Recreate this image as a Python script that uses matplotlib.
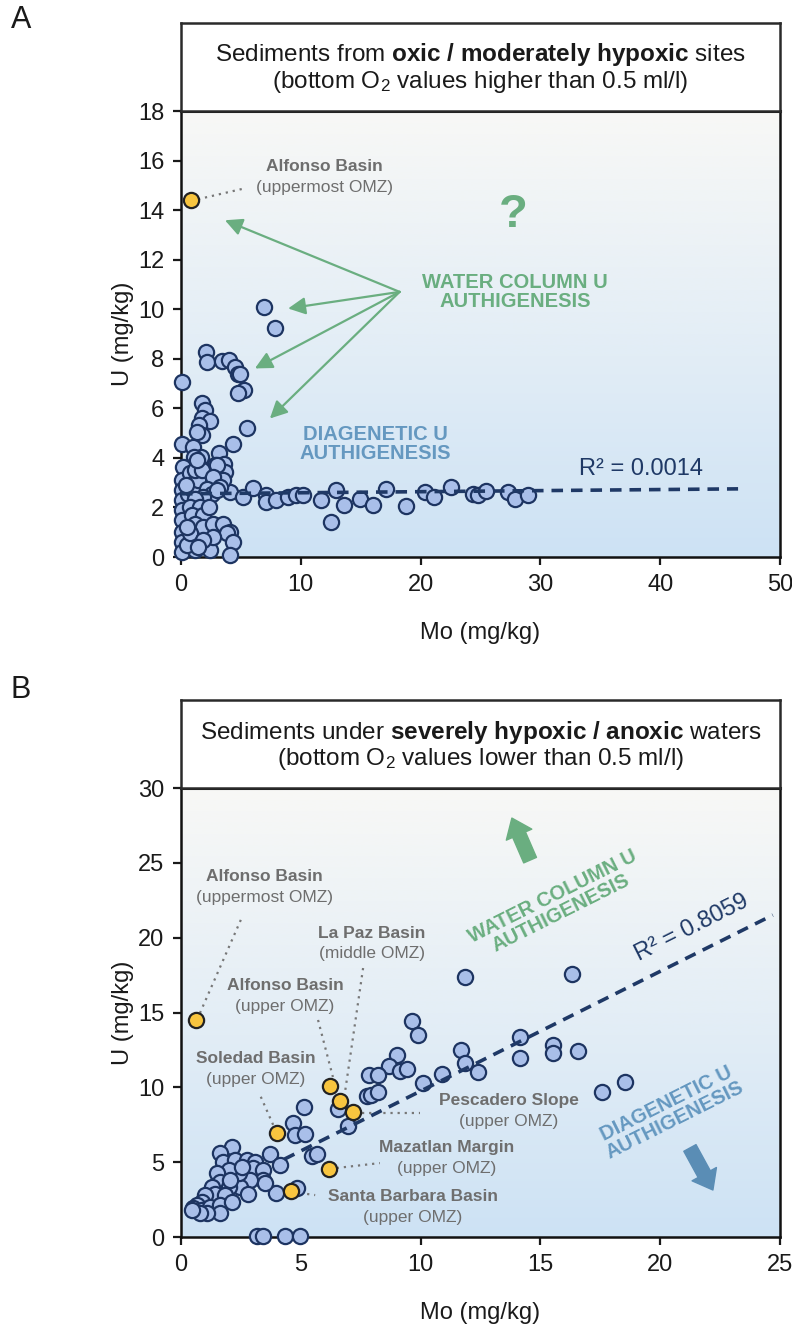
import numpy as np
import matplotlib
matplotlib.use('Agg')
import matplotlib.pyplot as plt
from matplotlib.colors import LinearSegmentedColormap

plt.rcParams['font.family'] = ['Liberation Sans', 'DejaVu Sans']
plt.rcParams['mathtext.fontset'] = 'custom'
plt.rcParams['mathtext.rm'] = 'Liberation Sans'
plt.rcParams['mathtext.bf'] = 'Liberation Sans:bold'
plt.rcParams['mathtext.it'] = 'Liberation Sans:italic'

# ---------------- data: panel A (oxic / moderately hypoxic) ----------------
mo_a = [6.94, 7.86, 2.06, 2.2, 3.44, 4.03, 4.5, 4.78, 4.95, 5.25, 4.72, 0.05, 1.78, 2.0,
        1.78, 2.42, 1.53, 5.47, 1.78, 1.3, 4.3, 0.05, 1.0, 3.17, 1.67, 1.11, 0.83, 2.83,
        3.61, 3.67, 1.67, 0.2, 2.69, 1.83,
        4.08, 5.14, 6.03, 7.08, 7.1, 7.92, 8.94, 9.64, 10.2, 11.72, 12.97, 13.58, 12.5,
        14.97, 16.0, 17.1, 18.8, 20.4, 21.1, 22.5, 24.4, 24.8, 25.5, 27.3, 27.9, 29.0,
        0.05, 0.05, 0.05, 0.1, 0.05, 0.1, 0.1, 0.1, 0.75, 0.9, 0.6, 1.0, 1.4, 1.2, 1.75,
        1.3, 2.97, 3.53, 2.7, 2.14, 2.55, 3.25, 1.86, 1.17, 0.75, 1.58, 0.9, 1.86, 1.17,
        1.86, 2.7, 3.53, 4.08, 3.8, 4.36, 4.08, 2.42, 1.17, 0.47, 0.75, 2.7, 1.86, 1.42,
        2.97, 0.5, 0.4, 2.3]
u_a = [10.09, 9.26, 8.28, 7.85, 7.9, 7.97, 7.67, 7.38, 7.4, 6.76, 6.6, 7.07, 6.2, 5.93,
       5.59, 5.5, 5.32, 5.19, 4.92, 5.05, 4.56, 4.56, 4.45, 4.18, 4.05, 4.05, 3.64, 3.7,
       3.76, 3.44, 3.57, 3.64, 2.97, 3.0,
       2.63, 2.43, 2.77, 2.5, 2.23, 2.3, 2.43, 2.5, 2.5, 2.32, 2.7, 2.1, 1.42,
       2.35, 2.1, 2.75, 2.05, 2.63, 2.42, 2.84, 2.56, 2.52, 2.66, 2.63, 2.36, 2.49,
       3.1, 2.7, 2.3, 1.9, 1.5, 1.02, 0.62, 0.22, 3.37, 2.96, 2.55, 2.7, 3.1, 3.5, 3.5,
       3.9, 3.71, 3.1, 3.23, 2.76, 2.55, 2.82, 2.42, 2.36, 2.02, 2.02, 1.68, 1.68, 1.35,
       1.21, 1.35, 1.35, 1.02, 0.95, 0.62, 0.08, 0.28, 0.28, 0.48, 0.95, 0.82, 0.68, 0.42,
       2.7, 1.2, 2.9, 2.0]
mo_a_hl = [0.8]      # Alfonso Basin (uppermost OMZ)
u_a_hl = [14.4]
trend_a_x = [0.0, 46.5]
trend_a_y = [2.55, 2.75]

# ---------------- data: panel B (severely hypoxic / anoxic) ----------------
mo_b = [11.84, 16.3, 9.64, 9.89, 11.7, 11.84, 12.4, 9.0, 8.67, 9.15, 9.43, 7.86, 8.23,
        10.11, 10.9, 7.75, 7.93, 8.23, 6.57, 6.96, 5.13, 4.69, 4.76, 5.17, 3.71, 4.13,
        5.45, 5.66, 3.96, 4.83, 3.16, 3.44, 4.35, 4.95,
        14.15, 14.15, 15.54, 15.54, 16.58, 17.56, 18.53,
        2.11, 1.63, 1.77, 2.25, 2.74, 3.09, 3.02, 3.43, 3.43, 3.5, 2.88, 2.46, 2.81, 2.42,
        2.0, 1.49, 1.63, 1.28, 2.0, 1.42, 1.84, 1.0, 0.86, 0.65, 0.51, 0.86, 1.21, 1.63,
        1.63, 1.07, 0.79, 0.44, 2.11, 2.04, 2.53]
u_b = [17.4, 17.6, 14.4, 13.5, 12.5, 11.65, 11.0, 12.16, 11.4, 11.1, 11.2, 10.82, 10.82,
       10.27, 10.92, 9.42, 9.47, 9.7, 8.55, 7.42, 8.66, 7.64, 6.81, 6.86, 5.54, 4.81,
       5.43, 5.54, 2.92, 3.25, 0.1, 0.1, 0.1, 0.1,
       13.38, 11.93, 12.83, 12.28, 12.4, 9.71, 10.37,
       6.03, 5.59, 5.03, 5.14, 5.14, 5.03, 4.59, 4.48, 3.8, 3.6, 3.8, 3.36, 2.9, 4.25,
       4.48, 4.25, 3.7, 3.36, 3.36, 2.9, 2.81, 2.81, 2.36, 2.14, 1.92, 1.8, 2.03, 2.14,
       1.58, 1.58, 1.58, 1.8, 2.36, 3.8, 4.7]
mo_b_hl = [0.63, 6.23, 6.64, 7.18, 4.02, 6.16, 4.58]
u_b_hl = [14.5, 10.08, 9.08, 8.33, 6.93, 4.54, 3.1]
trend_b_x = [4.3, 24.7]
trend_b_y = [5.19, 21.51]

# ---------------- style ----------------
FACE = '#a9bfe9'
EDGE = '#1d3461'
YEL = '#f8c53f'
NAVY = '#1f3966'
GREEN = '#6aae80'
BLUE_T = '#6598c0'
GRAY = '#6e6e6e'

bg_cmap = LinearSegmentedColormap.from_list(
    'bg', [(0.0, '#cde2f4'), (0.45, '#e2edf6'), (1.0, '#f8f8f6')])

fig = plt.figure(figsize=(7.92, 13.32), dpi=100)
fig.patch.set_facecolor('white')

L, W = 181 / 792, 599 / 792


def style_axes(ax, xlim, ylim, xticks, yticks):
    grad = np.linspace(0, 1, 256)[:, None]
    ax.imshow(grad, extent=[0, 1, 0, 1], transform=ax.transAxes, origin='lower',
              cmap=bg_cmap, aspect='auto', zorder=0, interpolation='bicubic')
    ax.set_xlim(xlim)
    ax.set_ylim(ylim)
    ax.set_xticks(xticks)
    ax.set_yticks(yticks)
    for s in ax.spines.values():
        s.set_linewidth(1.8)
        s.set_color('#111111')
    ax.spines['top'].set_linewidth(2.2)
    ax.tick_params(direction='out', length=6, width=1.6, labelsize=17, pad=6,
                   colors='#1a1a1a')
    ax.set_xlabel('Mo (mg/kg)', fontsize=17, color='#1a1a1a')
    ax.set_ylabel('U (mg/kg)', fontsize=17, color='#1a1a1a')
    ax.xaxis.set_label_coords(0.5, -0.145)
    ax.yaxis.set_label_coords(-0.078, 0.5)


def title_box(rect, line1, line2):
    tb = fig.add_axes(rect)
    tb.set_xticks([])
    tb.set_yticks([])
    tb.set_facecolor('white')
    for s in tb.spines.values():
        s.set_linewidth(1.8)
        s.set_color('#2a2a2a')
    tb.text(0.5, 0.635, line1, ha='center', va='center', fontsize=17.5, color='#1a1a1a')
    tb.text(0.5, 0.33, line2, ha='center', va='center', fontsize=17.5, color='#1a1a1a')


def label(ax, x, y, name, sub):
    # name line centred 7.5 pt above (x, y), parenthetical 7.5 pt below
    ax.annotate(name, xy=(x, y), xytext=(0, 7.5), textcoords='offset points',
                ha='center', va='center', fontsize=12.5, fontweight='bold',
                color=GRAY, zorder=6)
    ax.annotate(sub, xy=(x, y), xytext=(0, -7.5), textcoords='offset points',
                ha='center', va='center', fontsize=12.5, color=GRAY, zorder=6)


def leader(ax, p0, p1):
    ax.plot([p0[0], p1[0]], [p0[1], p1[1]], color='#777777', lw=1.6,
            dashes=(1.0, 2.2), zorder=2.8)


# ======================= Panel A =======================
axA = fig.add_axes([L, 1 - 557 / 1332, W, 446 / 1332])
style_axes(axA, (0, 50), (0, 18), range(0, 51, 10), range(0, 19, 2))
title_box([L, 1 - 111 / 1332, W, 88.3 / 1332],
          r'Sediments from $\mathbf{oxic\ /\ moderately\ hypoxic}$ sites',
          r'(bottom O$_2$ values higher than 0.5 ml/l)')

axA.scatter(mo_a, u_a, s=120, facecolor=FACE, edgecolor=EDGE, linewidth=1.6,
            zorder=3, clip_on=False)
axA.plot(trend_a_x, trend_a_y, color=NAVY, lw=2.6, dashes=(3.2, 2.2), zorder=4)
axA.scatter(mo_a_hl, u_a_hl, s=120, facecolor=YEL, edgecolor='#222222', linewidth=1.6,
            zorder=5, clip_on=False)

axA.text(33.2, 3.55, 'R² = 0.0014', ha='left', va='center', fontsize=17, color=NAVY,
         zorder=6)
label(axA, 12.0, 15.33, 'Alfonso Basin', '(uppermost OMZ)')
leader(axA, (1.42, 14.44), (5.33, 14.88))
axA.text(27.7, 13.8, '?', ha='center', va='center', fontsize=34, fontweight='bold',
         color=GREEN, zorder=6)
axA.text(27.9, 10.7, 'WATER COLUMN U\nAUTHIGENESIS', ha='center', va='center',
         fontsize=14.5, fontweight='bold', color=GREEN, linespacing=1.0, zorder=6)
axA.text(16.25, 4.58, 'DIAGENETIC U\nAUTHIGENESIS', ha='center', va='center',
         fontsize=14.5, fontweight='bold', color=BLUE_T, linespacing=1.0, zorder=6)
for tip in [(3.67, 13.59), (8.94, 10.03), (6.17, 7.61), (7.42, 5.59)]:
    axA.annotate('', xy=tip, xytext=(18.25, 10.7),
                 arrowprops=dict(arrowstyle='-|>', color=GREEN, lw=1.6,
                                 mutation_scale=26, shrinkA=0, shrinkB=0),
                 zorder=6)

fig.text(21 / 792, 1 - 20 / 1332, 'A', ha='center', va='center', fontsize=22,
         color='#1a1a1a')

# ======================= Panel B =======================
axB = fig.add_axes([L, 1 - 1237 / 1332, W, 449 / 1332])
style_axes(axB, (0, 25), (0, 30), range(0, 26, 5), range(0, 31, 5))
title_box([L, 1 - 788 / 1332, W, 88 / 1332],
          r'Sediments under $\mathbf{severely\ hypoxic\ /\ anoxic}$ waters',
          r'(bottom O$_2$ values lower than 0.5 ml/l)')

axB.scatter(mo_b, u_b, s=120, facecolor=FACE, edgecolor=EDGE, linewidth=1.6,
            zorder=3, clip_on=False)
axB.plot(trend_b_x, trend_b_y, color=NAVY, lw=2.6, dashes=(3.2, 2.2), zorder=4)
axB.scatter(mo_b_hl, u_b_hl, s=120, facecolor=YEL, edgecolor='#222222', linewidth=1.6,
            zorder=5, clip_on=False)

axB.text(19.2, 18.17, 'R² = 0.8059', ha='left', va='bottom', fontsize=17, color=NAVY,
         rotation=26.6, rotation_mode='anchor', zorder=6)
axB.text(15.69, 22.18, 'WATER COLUMN U\nAUTHIGENESIS', ha='center', va='center',
         fontsize=14.5, fontweight='bold', color=GREEN, linespacing=1.0,
         rotation=26.6, rotation_mode='anchor', zorder=6)
axB.text(20.45, 8.35, 'DIAGENETIC U\nAUTHIGENESIS', ha='center', va='center',
         fontsize=14.5, fontweight='bold', color=BLUE_T, linespacing=1.0,
         rotation=26.6, rotation_mode='anchor', zorder=6)
axB.annotate('', xy=(13.81, 27.99), xytext=(14.57, 25.18),
             arrowprops=dict(arrowstyle='simple,head_width=2.0,head_length=1.3,tail_width=1.0',
                             color=GREEN, mutation_scale=10, shrinkA=0, shrinkB=0), zorder=6)
axB.annotate('', xy=(22.2, 3.14), xytext=(21.24, 5.95),
             arrowprops=dict(arrowstyle='simple,head_width=2.0,head_length=1.3,tail_width=1.0',
                             color='#5a8db5', mutation_scale=10, shrinkA=0, shrinkB=0), zorder=6)

label(axB, 3.5, 23.41, 'Alfonso Basin', '(uppermost OMZ)')
leader(axB, (0.79, 14.96), (2.5, 21.2))
label(axB, 7.96, 19.61, 'La Paz Basin', '(middle OMZ)')
leader(axB, (7.6, 17.97), (6.84, 9.62))
label(axB, 4.34, 16.08, 'Alfonso Basin', '(upper OMZ)')
leader(axB, (5.72, 14.5), (6.34, 10.69))
label(axB, 3.13, 11.22, 'Soledad Basin', '(upper OMZ)')
leader(axB, (3.33, 9.37), (3.88, 7.37))
label(axB, 13.69, 8.43, 'Pescadero Slope', '(upper OMZ)')
leader(axB, (7.54, 8.28), (9.97, 8.28))
label(axB, 11.1, 5.26, 'Mazatlan Margin', '(upper OMZ)')
leader(axB, (6.5, 4.61), (8.3, 4.94))
label(axB, 9.68, 2.02, 'Santa Barbara Basin', '(upper OMZ)')
leader(axB, (4.97, 2.94), (5.6, 2.8))

fig.text(21 / 792, 1 - 690 / 1332, 'B', ha='center', va='center', fontsize=22,
         color='#1a1a1a')

fig.savefig('out.png', dpi=100)
